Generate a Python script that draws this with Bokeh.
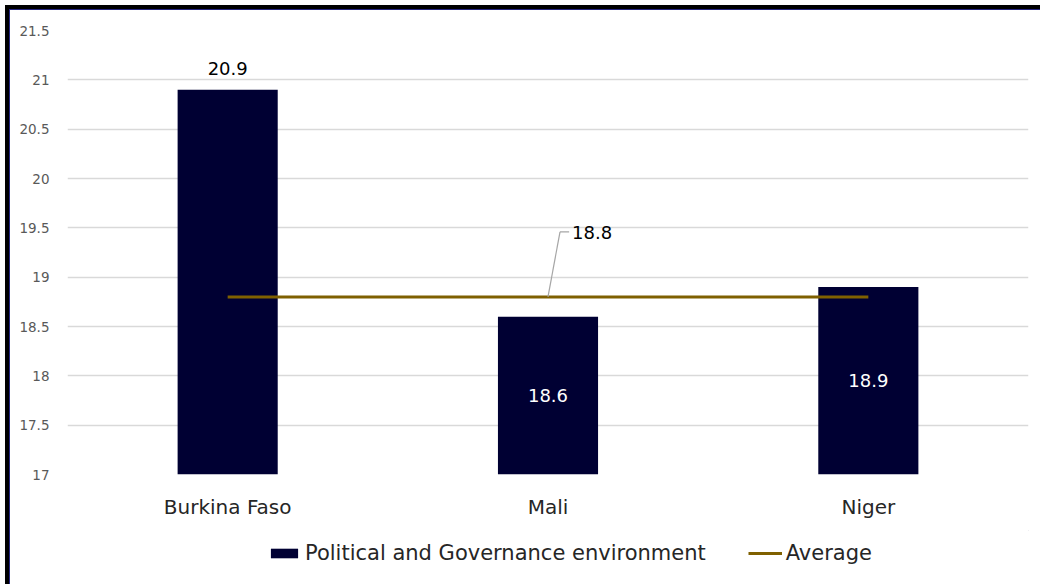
from bokeh.plotting import figure
from bokeh.layouts import column
from bokeh.models import (ColumnDataSource, FixedTicker, Legend, LegendItem, LabelSet, Range1d)
from bokeh.transform import dodge
from bokeh.embed import file_html
from bokeh.resources import INLINE
from bokeh.core.properties import value

countries = ["Burkina Faso", "Mali", "Niger"]
scores = [20.9, 18.6, 18.9]
average = [18.8, 18.8, 18.8]
avg_label = "18.8"
series_names = ["Political and Governance environment", "Average"]
y_ticks = [17, 17.5, 18, 18.5, 19, 19.5, 20, 20.5, 21, 21.5]
y_tick_labels = ["17", "17.5", "18", "18.5", "19", "19.5", "20", "20.5", "21", "21.5"]

FONT = "DejaVu Sans"
BAR = "#000033"
AVG = "#7F6000"

p = figure(x_range=countries, y_range=(17, 21.5), width=1040, height=530,
           output_backend="svg", toolbar_location=None,
           min_border_left=67, min_border_right=12, min_border_top=30, min_border_bottom=56)
p.outline_line_color = None
p.background_fill_color = "white"
p.border_fill_color = None
p.styles = {"box-shadow": "inset 5px 5px 0 0 #ffffff, inset 9px 9px 0 0 #000000, inset 10px 10px 0 0 #262680"}

src = ColumnDataSource(dict(x=countries, top=scores, avg=average))

bars = p.vbar(x="x", top="top", bottom=17, width=0.3125, source=src,
              fill_color=BAR, line_color=None)
avg_line = p.line(x="x", y="avg", source=src, line_color=AVG, line_width=3)

# value labels
first = ColumnDataSource(dict(x=countries[:1], y=scores[:1], lab=[f"{scores[0]:.1f}"]))
p.add_layout(LabelSet(x="x", y="y", text="lab", source=first, text_align="center",
                      text_baseline="middle", y_offset=21, text_font=value(FONT),
                      text_font_size="18px", text_color="#000000"))
inner = ColumnDataSource(dict(x=countries[1:], y=[(17 + v) / 2 for v in scores[1:]],
                              lab=[f"{v:.1f}" for v in scores[1:]]))
p.add_layout(LabelSet(x="x", y="y", text="lab", source=inner, text_align="center",
                      text_baseline="middle", text_font=value(FONT),
                      text_font_size="18px", text_color="#FFFFFF"))

# average label with leader line
lab_y = 19.46
p.segment(x0=dodge("x0", 0.0, range=p.x_range), y0="y0",
          x1=dodge("x1", 0.0375, range=p.x_range), y1="y1",
          source=ColumnDataSource(dict(x0=["Mali"], y0=[average[1]], x1=["Mali"], y1=[lab_y])),
          line_color="#A6A6A6", line_width=1.2)
p.segment(x0=dodge("x0", 0.0375, range=p.x_range), y0="y0",
          x1=dodge("x1", 0.066, range=p.x_range), y1="y1",
          source=ColumnDataSource(dict(x0=["Mali"], y0=[lab_y], x1=["Mali"], y1=[lab_y])),
          line_color="#A6A6A6", line_width=1.2)
p.text(x=dodge("x", 0.075, range=p.x_range), y="y", text="t",
       source=ColumnDataSource(dict(x=["Mali"], y=[lab_y - 0.01], t=[avg_label])),
       text_font=value(FONT), text_font_size="18px", text_color="#000000",
       text_baseline="middle", text_align="left")

# axes
p.yaxis.ticker = FixedTicker(ticks=y_ticks)
p.yaxis.major_label_overrides = {t: l for t, l in zip(y_ticks, y_tick_labels)}
p.yaxis.axis_line_color = None
p.yaxis.major_tick_line_color = None
p.yaxis.minor_tick_line_color = None
p.yaxis.major_label_text_font = FONT
p.yaxis.major_label_text_font_size = "13.5px"
p.yaxis.major_label_text_color = "#595959"
p.yaxis.major_label_standoff = 12

p.xaxis.axis_line_color = None
p.xaxis.major_tick_line_color = None
p.xaxis.major_label_text_font = FONT
p.xaxis.major_label_text_font_size = "20px"
p.xaxis.major_label_text_color = "#262626"
p.xaxis.major_label_standoff = 14

p.xgrid.grid_line_color = None
p.ygrid.grid_line_color = "#D9D9D9"
p.ygrid.grid_line_width = 1.3

# legend strip below the chart
p2 = figure(width=1040, height=54, output_backend="svg", toolbar_location=None,
            x_range=Range1d(0, 1), y_range=Range1d(0, 1),
            x_axis_type=None, y_axis_type=None,
            min_border_left=22, min_border_right=0, min_border_top=0, min_border_bottom=8)
p2.grid.visible = False
p2.outline_line_color = None
p2.border_fill_color = None
p2.background_fill_color = None
p2.styles = {"box-shadow": "inset 5px 0 0 0 #ffffff, inset 9px 0 0 0 #000000, inset 10px 0 0 0 #262680"}

# legend proxies, kept outside the visible range of the strip
leg_bar = p2.vbar(x=[5], top=[6], bottom=[5], width=0.1, fill_color=BAR, line_color=None)
leg_line = p2.line(x=[5, 6], y=[5, 5], line_color=AVG, line_width=3)

legend = Legend(items=[LegendItem(label=series_names[0], renderers=[leg_bar]),
                       LegendItem(label=series_names[1], renderers=[leg_line])],
                orientation="horizontal", location=(200, 11),
                label_text_font=FONT, label_text_font_size="21px", label_text_color="#262626",
                glyph_width=34, glyph_height=12, label_standoff=4, spacing=42,
                border_line_color=None, background_fill_alpha=0, padding=0, margin=0)
p2.add_layout(legend)

open("out.html", "w").write(file_html(column(p, p2), INLINE))
